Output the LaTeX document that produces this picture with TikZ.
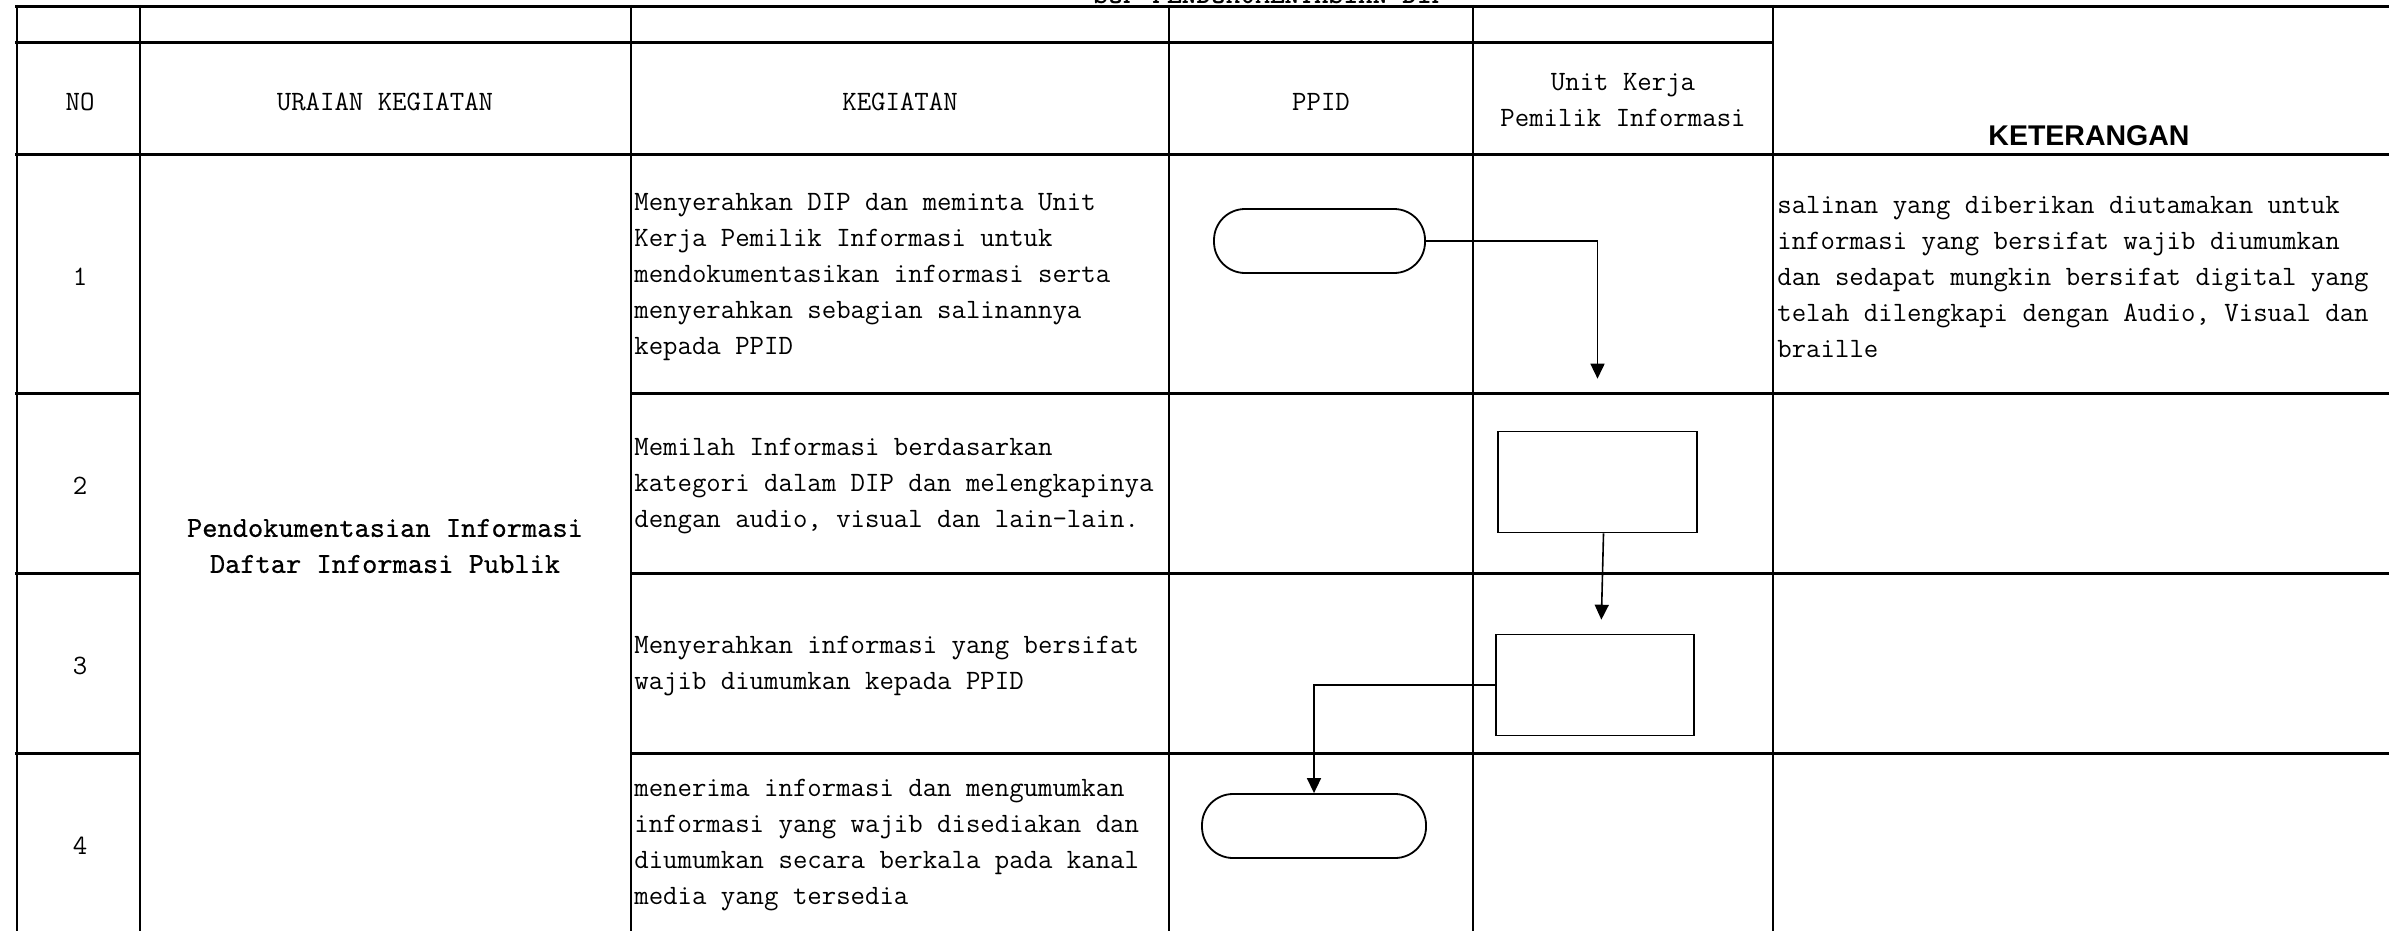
\documentclass[tikz,border=0pt]{standalone}
\usepackage{fontspec}
\newfontfamily\ketfont{Liberation Sans}
\newfontfamily\uraianfont{lmmono10-regular.otf}[FakeBold=0.6]
\usetikzlibrary{arrows.meta}

\tikzset{every picture/.style={line width=0.75pt}}
\tikzset{
	grid h/.style={line width=3pt},
	grid v/.style={line width=2.3pt},
	grid thin/.style={line width=1.8pt},
	cell text/.style={font=\ttfamily\fontsize{28}{36}\selectfont, inner sep=0pt, align=left, anchor=west},
	head text/.style={font=\ttfamily\fontsize{28}{36}\selectfont, inner sep=0pt, align=center},
	terminal/.style={draw, line width=1.8pt, rounded corners=31pt, minimum height=64pt, inner sep=0pt},
	process/.style={draw, line width=1.6pt, minimum width=198pt, minimum height=101pt, inner sep=0pt},
	flow/.style={-{Triangle[length=15pt,width=14pt]}, line width=1.6pt}}

\begin{document}
\begin{tikzpicture}[x=1pt,y=1pt,yscale=-1]
	\useasboundingbox (0,0) rectangle (2389,931);

	% Title Node (cut off at the top)
	\node[font=\ttfamily\bfseries\fontsize{28}{36}\selectfont, anchor=base, inner sep=0pt] (title) at (1270,4) {SOP PENDOKUMENTASIAN DIP};

	%Straight Lines: horizontal grid
	\draw[grid h] (15,7) -- (2389,7) ;
	\draw[grid h] (15,43) -- (1773,43) ;
	\draw[grid h] (15,154) -- (2389,154) ;
	\foreach \y in {393,573,753} {
		\draw[grid h] (15,\y) -- (141,\y) ;
		\draw[grid h] (630,\y) -- (2389,\y) ;
	}
	%Straight Lines: vertical grid
	\foreach \x in {17,140,631,1169,1773} {
		\draw[grid v] (\x,5) -- (\x,931) ;
	}
	\draw[grid thin] (1473,5) -- (1473,931) ;

	% Text Node: header
	\node[head text] (hNo) at (80,102) {NO};
	\node[head text] (hUraian) at (385,102) {URAIAN KEGIATAN};
	\node[head text] (hKegiatan) at (900,102) {KEGIATAN};
	\node[head text] (hPpid) at (1321,102) {PPID};
	\node[head text] (hUnit) at (1623,100) {Unit Kerja\\Pemilik Informasi};
	\node[font=\ketfont\bfseries\fontsize{28.5}{34}\selectfont, inner sep=0pt, anchor=base] (hKet) at (2089,146) {KETERANGAN};

	% Text Node: row numbers
	\node[head text] (no1) at (80,277) {1};
	\node[head text] (no2) at (80,486) {2};
	\node[head text] (no3) at (80,666) {3};
	\node[head text] (no4) at (80,846) {4};

	% Text Node: uraian
	\node[head text, font=\uraianfont\fontsize{29}{36}\selectfont] (uraian) at (385,546) {Pendokumentasian Informasi\\Daftar Informasi Publik};

	% Text Node: kegiatan
	\node[cell text] (keg1) at (634,277) {Menyerahkan DIP dan meminta Unit\\Kerja Pemilik Informasi untuk\\mendokumentasikan informasi serta\\menyerahkan sebagian salinannya\\kepada PPID};
	\node[cell text] (keg2) at (634,486) {Memilah Informasi berdasarkan\\kategori dalam DIP dan melengkapinya\\dengan audio, visual dan lain-lain.};
	\node[cell text] (keg3) at (634,666) {Menyerahkan informasi yang bersifat\\wajib diumumkan kepada PPID};
	\node[cell text] (keg4) at (634,845) {menerima informasi dan mengumumkan\\informasi yang wajib disediakan dan\\diumumkan secara berkala pada kanal\\media yang tersedia};

	% Text Node: keterangan
	\node[cell text] (ket1) at (1777,277) {salinan yang diberikan diutamakan untuk\\informasi yang bersifat wajib diumumkan\\dan sedapat mungkin bersifat digital yang\\telah dilengkapi dengan Audio, Visual dan\\braille};

	%Shape: Terminator and Process
	\node[terminal, minimum width=211pt] (ppid1) at (1319.5,241) {};
	\node[process, minimum width=199pt] (unit2) at (1597.5,482) {};
	\node[process] (unit3) at (1595,685) {};
	\node[terminal, minimum width=224pt] (ppid4) at (1314,826) {};

	%Connectors
	\draw[flow, shorten >=52pt] (ppid1.east) -| (unit2.north) ;
	\draw[flow, shorten >=14pt] ([xshift=6pt]unit2.south) -- ([xshift=6pt]unit3.north) ;
	\draw[flow] (unit3.west) -| (ppid4.north) ;

\end{tikzpicture}
\end{document}
